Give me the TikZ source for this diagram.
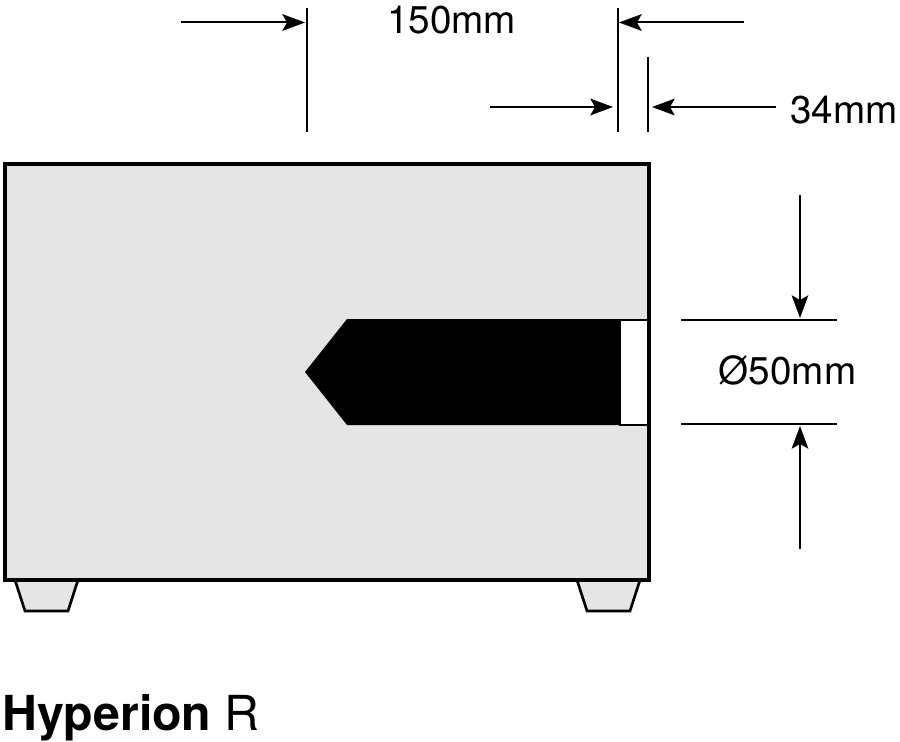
\documentclass[tikz,border=0pt]{standalone}
\usepackage{fontspec}
\setmainfont{TeX Gyre Heros}
\usetikzlibrary{arrows.meta}
\definecolor{bodygray}{gray}{0.9}
\tikzset{
	dimline/.style={line width=1.5pt},
	dimarrow/.style={line width=1.5pt,-{Stealth[length=17pt,width=12.5pt,inset=3.5pt]}},
	bodyline/.style={line width=2.3pt,fill=bodygray},
	dimlabel/.style={font=\fontsize{29}{29}\selectfont,inner sep=0pt},
}
\begin{document}
\begin{tikzpicture}[x=0.75pt,y=-0.75pt]
	\useasboundingbox (0,0) rectangle (900,742);
	\draw[bodyline,line width=2pt] (15,580) -- (25,611) -- (68,611) -- (78,580);
	\draw[bodyline,line width=2pt] (577,580) -- (587,611) -- (630,611) -- (640,580);
	\draw[bodyline] (5,164) rectangle (649,580);
	\fill[black] (305,372) -- (347,319) -- (620,319) -- (620,425) -- (347,425) -- cycle;
	\draw[line width=1.5pt,fill=white] (620,319.5) rectangle (649,424.5);
	\draw[bodyline,fill=none] (649,164) -- (649,580);
	\coordinate (tipdepth) at (307,8);
	\coordinate (tipdepthend) at (307,132);
	\coordinate (facea) at (618,8);
	\coordinate (faceaend) at (618,132);
	\coordinate (faceb) at (648,57);
	\coordinate (facebend) at (648,132);
	\coordinate (boreaa) at (681,320);
	\coordinate (boreab) at (837,320);
	\coordinate (boreba) at (681,424);
	\coordinate (borebb) at (837,424);
	\draw[dimline] (tipdepth) -- (tipdepthend);
	\draw[dimline] (facea) -- (faceaend);
	\draw[dimline] (faceb) -- (facebend);
	\draw[dimline] (boreaa) -- (boreab);
	\draw[dimline] (boreba) -- (borebb);
	\coordinate (arra) at (181,22.5);
	\coordinate (arrah) at (305,22.5);
	\coordinate (arrb) at (744,22.5);
	\coordinate (arrbh) at (619,22.5);
	\coordinate (arrc) at (490,107);
	\coordinate (arrch) at (613,107);
	\coordinate (arrd) at (776,107);
	\coordinate (arrdh) at (652,107);
	\coordinate (arre) at (800,195);
	\coordinate (arreh) at (800,318);
	\coordinate (arrf) at (800,549);
	\coordinate (arrfh) at (800,426);
	\draw[dimarrow] (arra) -- (arrah);
	\draw[dimarrow] (arrb) -- (arrbh);
	\draw[dimarrow] (arrc) -- (arrch);
	\draw[dimarrow] (arrd) -- (arrdh);
	\draw[dimarrow] (arre) -- (arreh);
	\draw[dimarrow] (arrf) -- (arrfh);
	\node[dimlabel] (depthlabel) at (451.5,20) {150mm};
	\node[dimlabel] (facelabel) at (844,110) {34mm};
	\node[dimlabel] (borelabel) at (787.5,370) {Ø50mm};
	\node[font=\fontsize{36.2}{36.2}\selectfont,inner sep=0pt,anchor=base west] (modelname) at (2,730) {\textbf{Hyperion} R};
\end{tikzpicture}
\end{document}
